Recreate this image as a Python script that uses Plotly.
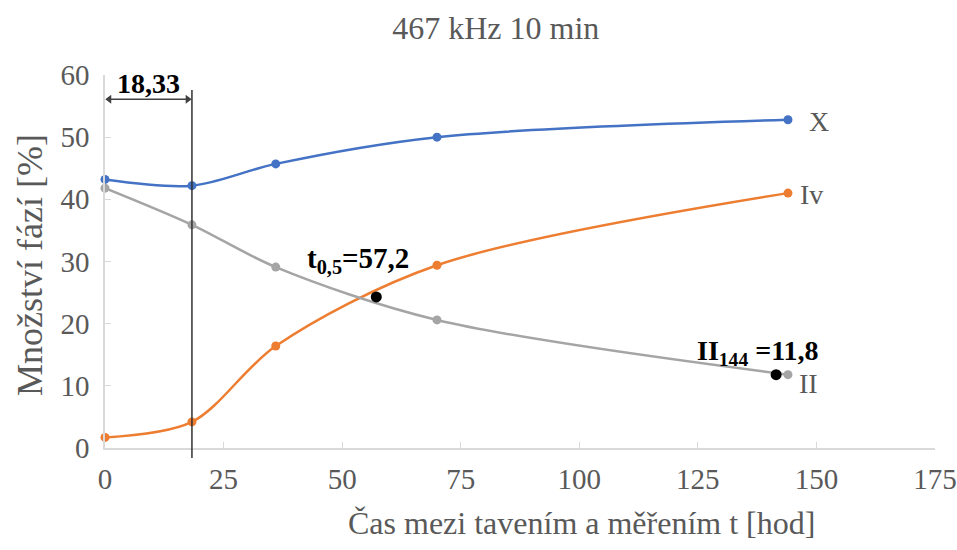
import plotly.graph_objects as go

# Time between melting and measurement [h]
t_hod = [0, 18.33, 36, 70, 144]

# Phase amounts [%]
faze_X = [43.2, 42.2, 45.7, 50.0, 52.8]
faze_Iv = [1.7, 4.2, 16.4, 29.4, 41.0]
faze_II = [41.8, 35.9, 29.1, 20.6, 11.8]

# Highlighted points
t_pol = 57.2
y_pol = 24.3
t_II = 141.5
II_144 = 11.8
t_mez = 18.33
y_sipka = 56.1

x_ticks = [0, 25, 50, 75, 100, 125, 150, 175]
y_ticks = [0, 10, 20, 30, 40, 50, 60]

SERIF = "Liberation Serif"
GREY_TXT = "#595959"
W, H = 957, 550
L, R, T, B = 105, 22, 75, 102
PW, PH = W - L - R, H - T - B


def px_to_paper(px, py):
    return (px - L) / PW, (H - B - py) / PH


def serif_label(v):
    return f"<span style='font-family:\"Liberation Serif\",serif'>{v}</span>"


fig = go.Figure()

for name, vals, col in [("X", faze_X, "#4472C4"),
                        ("Iv", faze_Iv, "#ED7D31"),
                        ("II", faze_II, "#A5A5A5")]:
    fig.add_trace(go.Scatter(
        x=t_hod, y=vals, name=name, mode="lines+markers",
        line=dict(color=col, width=2.5, shape="spline", smoothing=0.9),
        marker=dict(color=col, size=9),
        showlegend=False, cliponaxis=False,
    ))

fig.add_trace(go.Scatter(
    x=[t_pol, t_II], y=[y_pol, II_144], mode="markers",
    marker=dict(color="black", size=11), showlegend=False, cliponaxis=False,
))

# Double-headed dimension arrow between 0 and 18,33 h
fig.add_trace(go.Scatter(
    x=[0.9, t_mez - 0.9], y=[y_sipka, y_sipka], mode="lines+markers",
    line=dict(color="#404040", width=1.5),
    marker=dict(symbol=["triangle-left", "triangle-right"], size=8, color="#404040"),
    showlegend=False, cliponaxis=False, hoverinfo="skip",
))

# Vertical marker line at 18,33 h
fig.add_shape(type="line", xref="x", yref="y domain",
              x0=t_mez, x1=t_mez, y0=-0.027, y1=0.96,
              line=dict(color="#303030", width=1.5))

annots = [
    dict(x=t_mez / 2, y=58.6, text="<b>18,33</b>", size=28, color="black", xanchor="center"),
    dict(x=42.2, y=30.3, text="<b>t<sub>0,5</sub>=57,2</b>", size=29, color="black", xanchor="left"),
    dict(x=124.4, y=15.4, text="<b>II<sub>144</sub> =11,8</b>", size=28, color="black", xanchor="left"),
    dict(x=148.0, y=52.6, text="X", size=28, color=GREY_TXT, xanchor="left"),
    dict(x=146.2, y=40.8, text="Iv", size=28, color=GREY_TXT, xanchor="left"),
    dict(x=145.9, y=10.4, text="II", size=28, color=GREY_TXT, xanchor="left"),
]
for a in annots:
    fig.add_annotation(x=a["x"], y=a["y"], xref="x", yref="y", text=a["text"],
                       showarrow=False, xanchor=a["xanchor"], yanchor="middle",
                       font=dict(family=SERIF, size=a["size"], color=a["color"]))

# Axis titles
xt_x, xt_y = px_to_paper(581, 523)
fig.add_annotation(x=xt_x, y=xt_y, xref="paper", yref="paper",
                   text="Čas mezi tavením a měřením t [hod]", showarrow=False,
                   xanchor="center", yanchor="middle",
                   font=dict(family=SERIF, size=32, color=GREY_TXT))
yt_x, yt_y = px_to_paper(30, 265)
fig.add_annotation(x=yt_x, y=yt_y, xref="paper", yref="paper",
                   text="Množství fází [%]", showarrow=False, textangle=-90,
                   xanchor="center", yanchor="middle",
                   font=dict(family=SERIF, size=36, color=GREY_TXT))

axis_common = dict(
    showgrid=False, zeroline=False, showline=True, linecolor="#D9D9D9",
    linewidth=1.5, ticks="inside", ticklen=6, tickcolor="#D9D9D9",
    tickfont=dict(family=SERIF, size=29, color=GREY_TXT), automargin=False,
)

fig.update_layout(
    width=W, height=H,
    margin=dict(l=L, r=R, t=T, b=B),
    font=dict(family=SERIF, color=GREY_TXT),
    paper_bgcolor="white", plot_bgcolor="white",
    title=dict(text="467 kHz 10 min", x=0.518, xanchor="center", y=0.949,
               yanchor="middle", font=dict(family=SERIF, size=32, color=GREY_TXT)),
    xaxis=dict(range=[0, 175], tickvals=x_ticks,
               ticktext=[serif_label(v) for v in x_ticks],
               ticklabelstandoff=4, **axis_common),
    yaxis=dict(range=[0, 60], tickvals=y_ticks,
               ticktext=[serif_label(v) for v in y_ticks],
               ticklabelstandoff=8, **axis_common),
)

fig.write_html("out.html")
